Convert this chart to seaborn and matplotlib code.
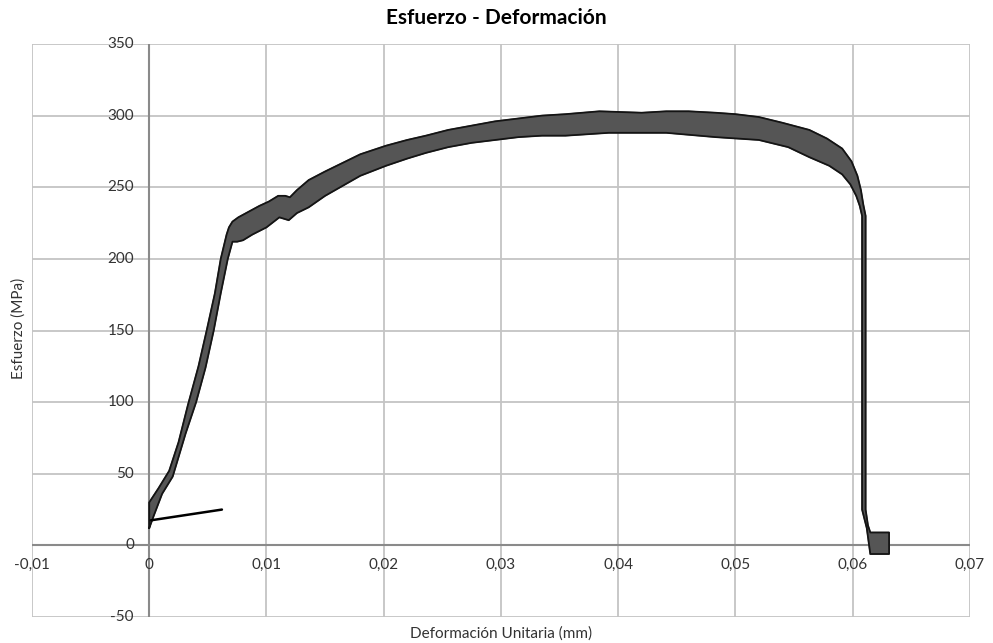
import matplotlib
matplotlib.use("Agg")
import matplotlib.pyplot as plt
import matplotlib.transforms as mtransforms
import numpy as np
import seaborn as sns

# outer (upper / right) edge of the recorded band
upper_strain = [0.0000, 0.0000, 0.0008, 0.0017, 0.0025, 0.0033, 0.0042, 0.0049, 0.0056,
                0.0061, 0.0066, 0.0068, 0.0071, 0.0076, 0.0085, 0.0094, 0.0102, 0.0110,
                0.0116, 0.0120, 0.0126, 0.0136, 0.0150, 0.0165, 0.0180, 0.0202, 0.0220,
                0.0236, 0.0255, 0.0275, 0.0295, 0.0315, 0.0335, 0.0355, 0.0384, 0.0420,
                0.0441, 0.0460, 0.0483, 0.0500, 0.0520, 0.0540, 0.0563, 0.0578, 0.0591,
                0.0599, 0.0604, 0.0607, 0.0609, 0.0611, 0.0611, 0.0613, 0.0615, 0.0631,
                0.0631]
upper_stress = [12, 30, 40, 52, 72, 98, 125, 150, 176,
                200, 217, 222, 226, 229, 233, 237, 240, 244,
                244, 243, 248, 255, 261, 267, 273, 279, 283,
                286, 290, 293, 296, 298, 300, 301, 303, 302,
                303, 303, 302, 301, 299, 295, 290, 284, 277,
                268, 258, 248, 238, 230, 25, 14, 9, 9,
                -6]

# inner (lower / left) edge of the band
lower_strain = [0.0000, 0.0004, 0.0011, 0.0020, 0.0031, 0.0040, 0.0048, 0.0055, 0.0061,
                0.0067, 0.0071, 0.0075, 0.0080, 0.0088, 0.0100, 0.0111, 0.0119, 0.0126,
                0.0136, 0.0150, 0.0165, 0.0180, 0.0202, 0.0220, 0.0236, 0.0255, 0.0275,
                0.0295, 0.0315, 0.0335, 0.0355, 0.0392, 0.0441, 0.0483, 0.0520, 0.0545,
                0.0563, 0.0580, 0.0591, 0.0598, 0.0603, 0.0606, 0.0608, 0.0608, 0.0612,
                0.0615, 0.0631]
lower_stress = [12, 21, 36, 48, 78, 100, 124, 150, 176,
                200, 212, 212, 213, 217, 222, 229, 227, 232,
                236, 244, 251, 258, 265, 270, 274, 278, 281,
                283, 285, 286, 286, 288, 288, 285, 283, 278,
                271, 265, 259, 252, 244, 237, 230, 25, 12,
                -6, -6]

# straight reference segment near the origin
ref_strain = [0.00014, 0.0062]
ref_stress = [17.5, 25]

x_ticks = [-0.01, 0, 0.01, 0.02, 0.03, 0.04, 0.05, 0.06, 0.07]
y_ticks = [-50, 0, 50, 100, 150, 200, 250, 300, 350]

sns.set_style("white")
plt.rcParams["font.family"] = ["Lato", "DejaVu Sans"]

fig = plt.figure(figsize=(9.93, 6.43), dpi=100)
ax = fig.add_axes([0.0322, 0.0404, 0.9446, 0.8912])

for v in x_ticks:
    ax.axvline(v, color="#c4c4c4", lw=1.3, zorder=0)
for v in y_ticks:
    ax.axhline(v, color="#c4c4c4", lw=1.3, zorder=0)
ax.axhline(0, color="#8a8a8a", lw=1.5, zorder=1)
ax.axvline(0, color="#8a8a8a", lw=1.5, zorder=1)

poly_x = np.r_[upper_strain, lower_strain[::-1]]
poly_y = np.r_[upper_stress, lower_stress[::-1]]
ax.fill(poly_x, poly_y, color="#555555", zorder=3)
ax.plot(np.r_[poly_x, poly_x[:1]], np.r_[poly_y, poly_y[:1]], color="#141414",
        lw=1.3, zorder=4, solid_joinstyle="round")

sns.lineplot(x=ref_strain, y=ref_stress, ax=ax, color="black", lw=1.8, zorder=5,
             estimator=None, sort=False)

ax.set_xlim(-0.01, 0.07)
ax.set_ylim(-50, 350)
ax.set_xticks([])
ax.set_yticks([])
for s in ax.spines.values():
    s.set_visible(False)

ylab_off = mtransforms.ScaledTranslation(-11 / 72, 0, fig.dpi_scale_trans)
for v in y_ticks:
    ax.text(0, v, f"{v}", ha="right", va="center", fontsize=11, color="#333333",
            transform=ax.transData + ylab_off)

xlab_off = mtransforms.ScaledTranslation(0, -9 / 72, fig.dpi_scale_trans)
for v in x_ticks:
    lab = "0" if v == 0 else f"{v:.2f}".replace(".", ",")
    ax.text(v, 0, lab, ha="center", va="top", fontsize=11, color="#333333",
            transform=ax.transData + xlab_off)

fig.text(0.500, 0.988, "Esfuerzo - Deformación", ha="center", va="top",
         fontsize=15, fontweight="bold", color="black")
fig.text(0.505, 0.004, "Deformación Unitaria (mm)", ha="center", va="bottom",
         fontsize=11, color="#333333")
fig.text(0.011, 0.49, "Esfuerzo (MPa)", ha="left", va="center", rotation=90,
         fontsize=11, color="#333333")

fig.savefig("out.png", dpi=100)
